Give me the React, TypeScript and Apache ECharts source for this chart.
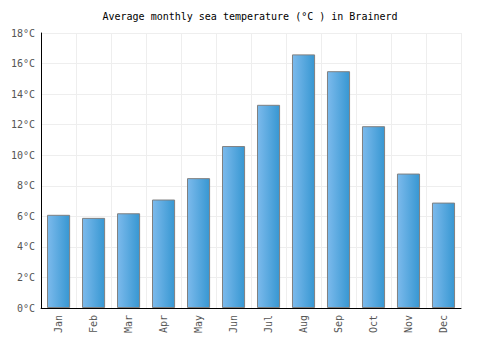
import React, { useEffect, useRef } from "react";
import * as echarts from "echarts";

const months = ["Jan", "Feb", "Mar", "Apr", "May", "Jun", "Jul", "Aug", "Sep", "Oct", "Nov", "Dec"];
const seaTemp = [6.1, 5.9, 6.2, 7.1, 8.5, 10.6, 13.3, 16.6, 15.5, 11.9, 8.8, 6.9];
const titleText = "Average monthly sea temperature (°C ) in Brainerd";

const FONT = "'DejaVu Sans Mono', monospace";

export default function App() {
  const ref = useRef<HTMLDivElement>(null);
  useEffect(() => {
    const chart = echarts.init(ref.current!, null, { renderer: "svg" });
    chart.setOption({
      animation: false,
      title: {
        text: titleText,
        left: "center",
        top: 3,
        padding: 0,
        textStyle: { fontFamily: FONT, fontSize: 10, fontWeight: "normal", color: "#000" },
      },
      grid: { left: 33, right: 31, top: 25, bottom: 34 },
      xAxis: {
        type: "category",
        data: months,
        axisLine: { lineStyle: { color: "#000", width: 1 } },
        axisTick: { show: false },
        axisLabel: { rotate: 90, fontFamily: FONT, fontSize: 10, color: "#555", margin: 7 },
        splitLine: { show: true, lineStyle: { color: "#eeeeee" } },
      },
      yAxis: {
        type: "value",
        min: 0,
        max: 18,
        interval: 2,
        axisLine: { show: true, lineStyle: { color: "#000", width: 1 } },
        axisTick: { show: false },
        axisLabel: { formatter: "{value}°C", fontFamily: FONT, fontSize: 10, color: "#555", margin: 6 },
        splitLine: { lineStyle: { color: "#eeeeee" } },
      },
      series: [
        {
          type: "bar",
          data: seaTemp,
          barWidth: "66%",
          itemStyle: {
            color: new echarts.graphic.LinearGradient(0, 0, 1, 0, [
              { offset: 0, color: "#7cbaec" },
              { offset: 1, color: "#3797d2" },
            ]),
            borderColor: "#808080",
            borderWidth: 1,
          },
        },
      ],
    });
    return () => chart.dispose();
  }, []);
  return <div ref={ref} style={{ width: 484, height: 334 }} />;
}
